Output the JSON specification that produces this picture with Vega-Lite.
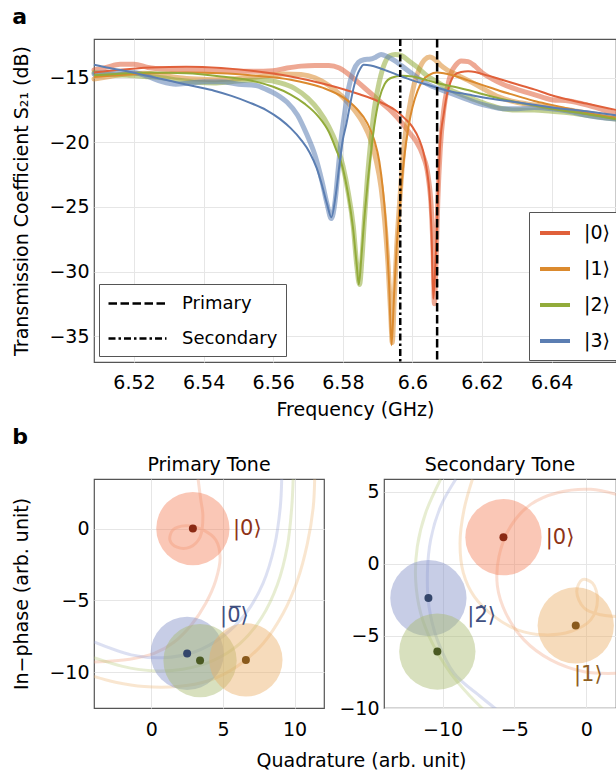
{
  "$schema": "https://vega.github.io/schema/vega-lite/v6.json",
  "padding": {"left": 12, "top": 6, "right": 0, "bottom": 0},
  "background": "white",
  "config": {
    "font": "DejaVu Sans",
    "view": {"stroke": "#555555", "strokeWidth": 1.2},
    "axis": {"domain": false, "ticks": false, "tickSize": 0, "grid": true, "gridColor": "#e6e6e6", "gridWidth": 1, "labelFontSize": 19, "labelColor": "#000000", "titleFontSize": 19, "titleFontWeight": "normal", "titleColor": "#000000", "labelPadding": 5},
    "title": {"fontSize": 19, "fontWeight": "normal", "color": "#000000"},
    "legend": {"labelFontSize": 19}
  },
  "title": {"text": "a", "anchor": "start", "frame": "bounds", "fontSize": 22, "fontWeight": "bold", "offset": 8},
  "spacing": 6,
  "datasets": {
    "meas": [
      {"st":"|0⟩","f":6.5085,"s":-14.4},{"st":"|0⟩","f":6.512,"s":-14.2},{"st":"|0⟩","f":6.516,"s":-13.95},{"st":"|0⟩","f":6.52,"s":-13.95},{"st":"|0⟩","f":6.524,"s":-14.2},{"st":"|0⟩","f":6.53,"s":-14.35},{"st":"|0⟩","f":6.536,"s":-14.4},{"st":"|0⟩","f":6.542,"s":-14.45},{"st":"|0⟩","f":6.548,"s":-14.5},{"st":"|0⟩","f":6.554,"s":-14.5},{"st":"|0⟩","f":6.56,"s":-14.45},{"st":"|0⟩","f":6.564,"s":-14.25},{"st":"|0⟩","f":6.568,"s":-14.1},{"st":"|0⟩","f":6.572,"s":-14.05},{"st":"|0⟩","f":6.576,"s":-14.05},{"st":"|0⟩","f":6.579,"s":-14.25},{"st":"|0⟩","f":6.582,"s":-14.8},{"st":"|0⟩","f":6.585,"s":-15.5},{"st":"|0⟩","f":6.588,"s":-16.2},{"st":"|0⟩","f":6.591,"s":-16.9},{"st":"|0⟩","f":6.594,"s":-17.6},{"st":"|0⟩","f":6.597,"s":-18.5},{"st":"|0⟩","f":6.599,"s":-19.2},{"st":"|0⟩","f":6.601,"s":-19.9},{"st":"|0⟩","f":6.603,"s":-21.0},{"st":"|0⟩","f":6.6045,"s":-22.6},{"st":"|0⟩","f":6.6055,"s":-25.5},{"st":"|0⟩","f":6.606,"s":-29.0},{"st":"|0⟩","f":6.6063,"s":-32.5},{"st":"|0⟩","f":6.6068,"s":-29.0},{"st":"|0⟩","f":6.6073,"s":-24.5},{"st":"|0⟩","f":6.608,"s":-20.5},{"st":"|0⟩","f":6.609,"s":-17.5},{"st":"|0⟩","f":6.61,"s":-15.8},{"st":"|0⟩","f":6.611,"s":-14.7},{"st":"|0⟩","f":6.6125,"s":-14.0},{"st":"|0⟩","f":6.614,"s":-13.7},{"st":"|0⟩","f":6.616,"s":-13.75},{"st":"|0⟩","f":6.618,"s":-14.1},{"st":"|0⟩","f":6.62,"s":-14.6},{"st":"|0⟩","f":6.623,"s":-15.1},{"st":"|0⟩","f":6.626,"s":-15.5},{"st":"|0⟩","f":6.63,"s":-15.9},{"st":"|0⟩","f":6.635,"s":-16.3},{"st":"|0⟩","f":6.64,"s":-16.7},{"st":"|0⟩","f":6.645,"s":-16.8},{"st":"|0⟩","f":6.65,"s":-17.1},{"st":"|0⟩","f":6.655,"s":-17.5},{"st":"|0⟩","f":6.6585,"s":-17.8},
      {"st":"|1⟩","f":6.5085,"s":-15.1},{"st":"|1⟩","f":6.513,"s":-14.9},{"st":"|1⟩","f":6.518,"s":-14.7},{"st":"|1⟩","f":6.523,"s":-14.65},{"st":"|1⟩","f":6.528,"s":-14.8},{"st":"|1⟩","f":6.533,"s":-15.0},{"st":"|1⟩","f":6.538,"s":-15.1},{"st":"|1⟩","f":6.543,"s":-15.15},{"st":"|1⟩","f":6.548,"s":-15.1},{"st":"|1⟩","f":6.553,"s":-15.0},{"st":"|1⟩","f":6.558,"s":-14.85},{"st":"|1⟩","f":6.563,"s":-14.7},{"st":"|1⟩","f":6.568,"s":-14.75},{"st":"|1⟩","f":6.572,"s":-15.0},{"st":"|1⟩","f":6.576,"s":-15.6},{"st":"|1⟩","f":6.58,"s":-16.5},{"st":"|1⟩","f":6.583,"s":-17.4},{"st":"|1⟩","f":6.586,"s":-18.6},{"st":"|1⟩","f":6.588,"s":-19.8},{"st":"|1⟩","f":6.5895,"s":-21.3},{"st":"|1⟩","f":6.591,"s":-23.5},{"st":"|1⟩","f":6.592,"s":-26.0},{"st":"|1⟩","f":6.593,"s":-29.5},{"st":"|1⟩","f":6.5938,"s":-33.5},{"st":"|1⟩","f":6.5942,"s":-35.5},{"st":"|1⟩","f":6.5948,"s":-32.0},{"st":"|1⟩","f":6.5955,"s":-28.0},{"st":"|1⟩","f":6.5965,"s":-24.0},{"st":"|1⟩","f":6.5975,"s":-20.5},{"st":"|1⟩","f":6.599,"s":-17.5},{"st":"|1⟩","f":6.6005,"s":-15.5},{"st":"|1⟩","f":6.602,"s":-14.3},{"st":"|1⟩","f":6.6035,"s":-13.6},{"st":"|1⟩","f":6.605,"s":-13.4},{"st":"|1⟩","f":6.6065,"s":-13.6},{"st":"|1⟩","f":6.608,"s":-14.0},{"st":"|1⟩","f":6.61,"s":-14.4},{"st":"|1⟩","f":6.613,"s":-14.8},{"st":"|1⟩","f":6.616,"s":-15.2},{"st":"|1⟩","f":6.62,"s":-15.8},{"st":"|1⟩","f":6.625,"s":-16.5},{"st":"|1⟩","f":6.63,"s":-16.9},{"st":"|1⟩","f":6.635,"s":-17.1},{"st":"|1⟩","f":6.64,"s":-17.3},{"st":"|1⟩","f":6.645,"s":-17.5},{"st":"|1⟩","f":6.65,"s":-17.7},{"st":"|1⟩","f":6.6585,"s":-18.1},
      {"st":"|2⟩","f":6.5085,"s":-14.6},{"st":"|2⟩","f":6.513,"s":-14.75},{"st":"|2⟩","f":6.518,"s":-14.8},{"st":"|2⟩","f":6.523,"s":-14.9},{"st":"|2⟩","f":6.528,"s":-15.0},{"st":"|2⟩","f":6.533,"s":-15.2},{"st":"|2⟩","f":6.538,"s":-15.35},{"st":"|2⟩","f":6.543,"s":-15.4},{"st":"|2⟩","f":6.548,"s":-15.3},{"st":"|2⟩","f":6.553,"s":-15.2},{"st":"|2⟩","f":6.558,"s":-15.2},{"st":"|2⟩","f":6.562,"s":-15.4},{"st":"|2⟩","f":6.566,"s":-15.8},{"st":"|2⟩","f":6.57,"s":-16.6},{"st":"|2⟩","f":6.573,"s":-17.5},{"st":"|2⟩","f":6.576,"s":-18.8},{"st":"|2⟩","f":6.578,"s":-20.0},{"st":"|2⟩","f":6.58,"s":-21.8},{"st":"|2⟩","f":6.5815,"s":-23.8},{"st":"|2⟩","f":6.583,"s":-26.5},{"st":"|2⟩","f":6.584,"s":-29.5},{"st":"|2⟩","f":6.5848,"s":-31.0},{"st":"|2⟩","f":6.5855,"s":-29.0},{"st":"|2⟩","f":6.5862,"s":-26.0},{"st":"|2⟩","f":6.587,"s":-23.0},{"st":"|2⟩","f":6.588,"s":-20.0},{"st":"|2⟩","f":6.589,"s":-17.5},{"st":"|2⟩","f":6.5905,"s":-15.3},{"st":"|2⟩","f":6.592,"s":-13.9},{"st":"|2⟩","f":6.5935,"s":-13.3},{"st":"|2⟩","f":6.595,"s":-13.2},{"st":"|2⟩","f":6.597,"s":-13.3},{"st":"|2⟩","f":6.599,"s":-13.7},{"st":"|2⟩","f":6.601,"s":-14.1},{"st":"|2⟩","f":6.604,"s":-14.8},{"st":"|2⟩","f":6.607,"s":-15.3},{"st":"|2⟩","f":6.61,"s":-15.8},{"st":"|2⟩","f":6.614,"s":-16.3},{"st":"|2⟩","f":6.618,"s":-16.7},{"st":"|2⟩","f":6.622,"s":-17.1},{"st":"|2⟩","f":6.626,"s":-17.4},{"st":"|2⟩","f":6.63,"s":-17.5},{"st":"|2⟩","f":6.635,"s":-17.5},{"st":"|2⟩","f":6.64,"s":-17.6},{"st":"|2⟩","f":6.645,"s":-17.7},{"st":"|2⟩","f":6.65,"s":-17.9},{"st":"|2⟩","f":6.6585,"s":-18.2},
      {"st":"|3⟩","f":6.5085,"s":-14.7},{"st":"|3⟩","f":6.512,"s":-14.6},{"st":"|3⟩","f":6.516,"s":-14.55},{"st":"|3⟩","f":6.52,"s":-14.6},{"st":"|3⟩","f":6.524,"s":-14.9},{"st":"|3⟩","f":6.528,"s":-15.3},{"st":"|3⟩","f":6.532,"s":-15.5},{"st":"|3⟩","f":6.536,"s":-15.4},{"st":"|3⟩","f":6.54,"s":-15.3},{"st":"|3⟩","f":6.545,"s":-15.3},{"st":"|3⟩","f":6.55,"s":-15.5},{"st":"|3⟩","f":6.555,"s":-15.6},{"st":"|3⟩","f":6.558,"s":-15.9},{"st":"|3⟩","f":6.561,"s":-16.3},{"st":"|3⟩","f":6.564,"s":-16.9},{"st":"|3⟩","f":6.567,"s":-17.9},{"st":"|3⟩","f":6.5695,"s":-19.3},{"st":"|3⟩","f":6.572,"s":-21.0},{"st":"|3⟩","f":6.574,"s":-23.0},{"st":"|3⟩","f":6.5755,"s":-24.8},{"st":"|3⟩","f":6.5767,"s":-25.9},{"st":"|3⟩","f":6.5778,"s":-24.5},{"st":"|3⟩","f":6.5787,"s":-22.0},{"st":"|3⟩","f":6.5795,"s":-19.8},{"st":"|3⟩","f":6.5805,"s":-17.8},{"st":"|3⟩","f":6.5815,"s":-16.0},{"st":"|3⟩","f":6.583,"s":-14.5},{"st":"|3⟩","f":6.5845,"s":-13.8},{"st":"|3⟩","f":6.586,"s":-13.6},{"st":"|3⟩","f":6.588,"s":-13.55},{"st":"|3⟩","f":6.5895,"s":-13.4},{"st":"|3⟩","f":6.591,"s":-13.2},{"st":"|3⟩","f":6.593,"s":-13.4},{"st":"|3⟩","f":6.595,"s":-13.7},{"st":"|3⟩","f":6.597,"s":-14.1},{"st":"|3⟩","f":6.6,"s":-14.7},{"st":"|3⟩","f":6.603,"s":-15.3},{"st":"|3⟩","f":6.606,"s":-15.7},{"st":"|3⟩","f":6.61,"s":-16.1},{"st":"|3⟩","f":6.614,"s":-16.5},{"st":"|3⟩","f":6.618,"s":-16.9},{"st":"|3⟩","f":6.622,"s":-17.2},{"st":"|3⟩","f":6.626,"s":-17.4},{"st":"|3⟩","f":6.63,"s":-17.4},{"st":"|3⟩","f":6.635,"s":-17.3},{"st":"|3⟩","f":6.64,"s":-17.4},{"st":"|3⟩","f":6.645,"s":-17.6},{"st":"|3⟩","f":6.65,"s":-17.9},{"st":"|3⟩","f":6.6585,"s":-18.2}
    ],
    "fit": [
      {"st":"|0⟩","f":6.5085,"s":-14.6},{"st":"|0⟩","f":6.515,"s":-14.4},{"st":"|0⟩","f":6.525,"s":-14.2},{"st":"|0⟩","f":6.535,"s":-14.15},{"st":"|0⟩","f":6.545,"s":-14.25},{"st":"|0⟩","f":6.555,"s":-14.5},{"st":"|0⟩","f":6.565,"s":-14.9},{"st":"|0⟩","f":6.575,"s":-15.5},{"st":"|0⟩","f":6.585,"s":-16.3},{"st":"|0⟩","f":6.59,"s":-16.8},{"st":"|0⟩","f":6.595,"s":-17.5},{"st":"|0⟩","f":6.598,"s":-18.2},{"st":"|0⟩","f":6.6,"s":-18.8},{"st":"|0⟩","f":6.602,"s":-19.8},{"st":"|0⟩","f":6.603,"s":-20.6},{"st":"|0⟩","f":6.604,"s":-21.9},{"st":"|0⟩","f":6.605,"s":-24.3},{"st":"|0⟩","f":6.6055,"s":-27.0},{"st":"|0⟩","f":6.606,"s":-32.1},{"st":"|0⟩","f":6.6065,"s":-30.0},{"st":"|0⟩","f":6.607,"s":-26.9},{"st":"|0⟩","f":6.6075,"s":-23.0},{"st":"|0⟩","f":6.608,"s":-20.0},{"st":"|0⟩","f":6.609,"s":-17.8},{"st":"|0⟩","f":6.61,"s":-16.2},{"st":"|0⟩","f":6.611,"s":-15.3},{"st":"|0⟩","f":6.612,"s":-14.8},{"st":"|0⟩","f":6.614,"s":-14.55},{"st":"|0⟩","f":6.616,"s":-14.5},{"st":"|0⟩","f":6.618,"s":-14.55},{"st":"|0⟩","f":6.62,"s":-14.7},{"st":"|0⟩","f":6.625,"s":-15.1},{"st":"|0⟩","f":6.63,"s":-15.5},{"st":"|0⟩","f":6.635,"s":-15.9},{"st":"|0⟩","f":6.64,"s":-16.35},{"st":"|0⟩","f":6.645,"s":-16.7},{"st":"|0⟩","f":6.65,"s":-17.0},{"st":"|0⟩","f":6.6585,"s":-17.5},
      {"st":"|1⟩","f":6.5085,"s":-14.95},{"st":"|1⟩","f":6.515,"s":-14.8},{"st":"|1⟩","f":6.525,"s":-14.65},{"st":"|1⟩","f":6.535,"s":-14.6},{"st":"|1⟩","f":6.545,"s":-14.65},{"st":"|1⟩","f":6.555,"s":-14.85},{"st":"|1⟩","f":6.565,"s":-15.15},{"st":"|1⟩","f":6.57,"s":-15.45},{"st":"|1⟩","f":6.575,"s":-15.85},{"st":"|1⟩","f":6.58,"s":-16.5},{"st":"|1⟩","f":6.584,"s":-17.4},{"st":"|1⟩","f":6.587,"s":-18.5},{"st":"|1⟩","f":6.589,"s":-19.8},{"st":"|1⟩","f":6.5905,"s":-21.5},{"st":"|1⟩","f":6.5915,"s":-23.6},{"st":"|1⟩","f":6.5925,"s":-26.8},{"st":"|1⟩","f":6.5933,"s":-31.0},{"st":"|1⟩","f":6.594,"s":-35.7},{"st":"|1⟩","f":6.5947,"s":-32.0},{"st":"|1⟩","f":6.5955,"s":-28.0},{"st":"|1⟩","f":6.5965,"s":-24.5},{"st":"|1⟩","f":6.5975,"s":-21.5},{"st":"|1⟩","f":6.599,"s":-18.6},{"st":"|1⟩","f":6.6,"s":-17.3},{"st":"|1⟩","f":6.6015,"s":-16.0},{"st":"|1⟩","f":6.603,"s":-15.2},{"st":"|1⟩","f":6.605,"s":-14.75},{"st":"|1⟩","f":6.607,"s":-14.6},{"st":"|1⟩","f":6.609,"s":-14.65},{"st":"|1⟩","f":6.612,"s":-14.85},{"st":"|1⟩","f":6.616,"s":-15.2},{"st":"|1⟩","f":6.62,"s":-15.55},{"st":"|1⟩","f":6.625,"s":-16.0},{"st":"|1⟩","f":6.63,"s":-16.4},{"st":"|1⟩","f":6.635,"s":-16.8},{"st":"|1⟩","f":6.64,"s":-17.1},{"st":"|1⟩","f":6.645,"s":-17.4},{"st":"|1⟩","f":6.65,"s":-17.7},{"st":"|1⟩","f":6.6585,"s":-18.1},
      {"st":"|2⟩","f":6.5085,"s":-14.8},{"st":"|2⟩","f":6.515,"s":-14.7},{"st":"|2⟩","f":6.525,"s":-14.6},{"st":"|2⟩","f":6.535,"s":-14.65},{"st":"|2⟩","f":6.545,"s":-14.9},{"st":"|2⟩","f":6.555,"s":-15.3},{"st":"|2⟩","f":6.56,"s":-15.7},{"st":"|2⟩","f":6.565,"s":-16.3},{"st":"|2⟩","f":6.569,"s":-17.0},{"st":"|2⟩","f":6.573,"s":-18.0},{"st":"|2⟩","f":6.576,"s":-19.2},{"st":"|2⟩","f":6.578,"s":-20.5},{"st":"|2⟩","f":6.58,"s":-22.0},{"st":"|2⟩","f":6.5815,"s":-24.0},{"st":"|2⟩","f":6.583,"s":-26.8},{"st":"|2⟩","f":6.584,"s":-29.5},{"st":"|2⟩","f":6.5846,"s":-31.0},{"st":"|2⟩","f":6.5853,"s":-29.0},{"st":"|2⟩","f":6.586,"s":-26.5},{"st":"|2⟩","f":6.587,"s":-23.5},{"st":"|2⟩","f":6.588,"s":-21.0},{"st":"|2⟩","f":6.589,"s":-18.8},{"st":"|2⟩","f":6.5905,"s":-16.6},{"st":"|2⟩","f":6.592,"s":-15.5},{"st":"|2⟩","f":6.594,"s":-15.0},{"st":"|2⟩","f":6.597,"s":-14.85},{"st":"|2⟩","f":6.6,"s":-14.9},{"st":"|2⟩","f":6.603,"s":-15.1},{"st":"|2⟩","f":6.607,"s":-15.4},{"st":"|2⟩","f":6.612,"s":-15.7},{"st":"|2⟩","f":6.618,"s":-16.1},{"st":"|2⟩","f":6.625,"s":-16.6},{"st":"|2⟩","f":6.632,"s":-17.0},{"st":"|2⟩","f":6.64,"s":-17.4},{"st":"|2⟩","f":6.65,"s":-17.8},{"st":"|2⟩","f":6.6585,"s":-18.2},
      {"st":"|3⟩","f":6.5085,"s":-14.0},{"st":"|3⟩","f":6.513,"s":-14.25},{"st":"|3⟩","f":6.518,"s":-14.5},{"st":"|3⟩","f":6.523,"s":-14.8},{"st":"|3⟩","f":6.528,"s":-15.1},{"st":"|3⟩","f":6.533,"s":-15.4},{"st":"|3⟩","f":6.538,"s":-15.7},{"st":"|3⟩","f":6.543,"s":-16.0},{"st":"|3⟩","f":6.548,"s":-16.4},{"st":"|3⟩","f":6.553,"s":-16.9},{"st":"|3⟩","f":6.558,"s":-17.5},{"st":"|3⟩","f":6.562,"s":-18.2},{"st":"|3⟩","f":6.565,"s":-18.9},{"st":"|3⟩","f":6.568,"s":-19.8},{"st":"|3⟩","f":6.5705,"s":-20.8},{"st":"|3⟩","f":6.5725,"s":-22.0},{"st":"|3⟩","f":6.574,"s":-23.3},{"st":"|3⟩","f":6.5755,"s":-24.8},{"st":"|3⟩","f":6.5767,"s":-25.8},{"st":"|3⟩","f":6.578,"s":-24.0},{"st":"|3⟩","f":6.579,"s":-21.8},{"st":"|3⟩","f":6.58,"s":-19.8},{"st":"|3⟩","f":6.581,"s":-18.6},{"st":"|3⟩","f":6.582,"s":-17.2},{"st":"|3⟩","f":6.583,"s":-15.9},{"st":"|3⟩","f":6.584,"s":-14.9},{"st":"|3⟩","f":6.585,"s":-14.3},{"st":"|3⟩","f":6.586,"s":-14.0},{"st":"|3⟩","f":6.588,"s":-14.05},{"st":"|3⟩","f":6.591,"s":-14.3},{"st":"|3⟩","f":6.595,"s":-14.7},{"st":"|3⟩","f":6.6,"s":-15.2},{"st":"|3⟩","f":6.605,"s":-15.6},{"st":"|3⟩","f":6.61,"s":-16.0},{"st":"|3⟩","f":6.616,"s":-16.3},{"st":"|3⟩","f":6.62,"s":-16.5},{"st":"|3⟩","f":6.63,"s":-16.9},{"st":"|3⟩","f":6.64,"s":-17.3},{"st":"|3⟩","f":6.65,"s":-17.6},{"st":"|3⟩","f":6.6585,"s":-17.9}
    ],
    "tones": [{"tone":"Primary","f":6.6071},{"tone":"Secondary","f":6.5965}],
    "traces": [
      {"p":"P","st":"0","k":0,"q":3.26,"i":3.47},{"p":"P","st":"0","k":1,"q":3.45,"i":2.0},{"p":"P","st":"0","k":2,"q":3.6,"i":0.9},{"p":"P","st":"0","k":3,"q":3.4,"i":-0.6},{"p":"P","st":"0","k":4,"q":2.7,"i":-1.3},{"p":"P","st":"0","k":5,"q":1.8,"i":-1.3},{"p":"P","st":"0","k":6,"q":1.3,"i":-0.8},{"p":"P","st":"0","k":7,"q":1.5,"i":-0.1},{"p":"P","st":"0","k":8,"q":2.4,"i":0.2},{"p":"P","st":"0","k":9,"q":3.6,"i":-0.1},{"p":"P","st":"0","k":10,"q":4.5,"i":-0.8},{"p":"P","st":"0","k":11,"q":4.8,"i":-2.0},{"p":"P","st":"0","k":12,"q":4.5,"i":-3.6},{"p":"P","st":"0","k":13,"q":3.8,"i":-5.2},{"p":"P","st":"0","k":14,"q":2.8,"i":-6.7},{"p":"P","st":"0","k":15,"q":1.6,"i":-7.9},{"p":"P","st":"0","k":16,"q":0.2,"i":-8.7},{"p":"P","st":"0","k":17,"q":-1.5,"i":-9.1},{"p":"P","st":"0","k":18,"q":-4.0,"i":-9.3},
      {"p":"P","st":"1","k":0,"q":11.4,"i":3.47},{"p":"P","st":"1","k":1,"q":11.3,"i":1.5},{"p":"P","st":"1","k":2,"q":10.9,"i":-1.0},{"p":"P","st":"1","k":3,"q":10.2,"i":-3.6},{"p":"P","st":"1","k":4,"q":9.2,"i":-5.9},{"p":"P","st":"1","k":5,"q":7.8,"i":-8.0},{"p":"P","st":"1","k":6,"q":6.0,"i":-9.6},{"p":"P","st":"1","k":7,"q":4.0,"i":-10.6},{"p":"P","st":"1","k":8,"q":1.8,"i":-11.0},{"p":"P","st":"1","k":9,"q":-0.5,"i":-11.0},{"p":"P","st":"1","k":10,"q":-2.5,"i":-10.7},{"p":"P","st":"1","k":11,"q":-4.0,"i":-10.3},
      {"p":"P","st":"2","k":0,"q":9.9,"i":3.47},{"p":"P","st":"2","k":1,"q":9.8,"i":1.5},{"p":"P","st":"2","k":2,"q":9.5,"i":-1.2},{"p":"P","st":"2","k":3,"q":8.8,"i":-3.9},{"p":"P","st":"2","k":4,"q":7.7,"i":-6.2},{"p":"P","st":"2","k":5,"q":6.2,"i":-8.0},{"p":"P","st":"2","k":6,"q":4.3,"i":-9.2},{"p":"P","st":"2","k":7,"q":2.2,"i":-9.8},{"p":"P","st":"2","k":8,"q":0.0,"i":-9.9},{"p":"P","st":"2","k":9,"q":-2.0,"i":-9.6},{"p":"P","st":"2","k":10,"q":-4.0,"i":-9.0},
      {"p":"P","st":"3","k":0,"q":9.1,"i":3.47},{"p":"P","st":"3","k":1,"q":9.0,"i":1.5},{"p":"P","st":"3","k":2,"q":8.6,"i":-1.2},{"p":"P","st":"3","k":3,"q":7.8,"i":-3.8},{"p":"P","st":"3","k":4,"q":6.6,"i":-5.9},{"p":"P","st":"3","k":5,"q":5.0,"i":-7.5},{"p":"P","st":"3","k":6,"q":3.0,"i":-8.6},{"p":"P","st":"3","k":7,"q":0.8,"i":-9.0},{"p":"P","st":"3","k":8,"q":-1.4,"i":-8.8},{"p":"P","st":"3","k":9,"q":-4.0,"i":-7.9},
      {"p":"S","st":"0","k":0,"q":2.08,"i":4.83},{"p":"S","st":"0","k":1,"q":0.32,"i":5.18},{"p":"S","st":"0","k":2,"q":-2.0,"i":4.95},{"p":"S","st":"0","k":3,"q":-3.86,"i":4.14},{"p":"S","st":"0","k":4,"q":-5.25,"i":2.63},{"p":"S","st":"0","k":5,"q":-6.07,"i":0.54},{"p":"S","st":"0","k":6,"q":-6.18,"i":-1.55},{"p":"S","st":"0","k":7,"q":-5.6,"i":-3.41},{"p":"S","st":"0","k":8,"q":-4.33,"i":-5.27},{"p":"S","st":"0","k":9,"q":-2.47,"i":-6.66},{"p":"S","st":"0","k":10,"q":-0.15,"i":-7.48},{"p":"S","st":"0","k":11,"q":2.08,"i":-7.59},
      {"p":"S","st":"1","k":0,"q":-7.92,"i":5.88},{"p":"S","st":"1","k":1,"q":-8.5,"i":3.79},{"p":"S","st":"1","k":2,"q":-8.78,"i":1.47},{"p":"S","st":"1","k":3,"q":-8.55,"i":-0.62},{"p":"S","st":"1","k":4,"q":-7.8,"i":-2.25},{"p":"S","st":"1","k":5,"q":-6.41,"i":-3.64},{"p":"S","st":"1","k":6,"q":-4.79,"i":-4.57},{"p":"S","st":"1","k":7,"q":-2.93,"i":-4.92},{"p":"S","st":"1","k":8,"q":-1.08,"i":-4.69},{"p":"S","st":"1","k":9,"q":0.31,"i":-3.88},{"p":"S","st":"1","k":10,"q":0.78,"i":-2.48},{"p":"S","st":"1","k":11,"q":0.43,"i":-1.32},{"p":"S","st":"1","k":12,"q":-0.27,"i":-1.09},{"p":"S","st":"1","k":13,"q":-0.66,"i":-1.9},{"p":"S","st":"1","k":14,"q":-0.15,"i":-3.06},{"p":"S","st":"1","k":15,"q":1.01,"i":-3.53},{"p":"S","st":"1","k":16,"q":2.08,"i":-3.64},
      {"p":"S","st":"2","k":0,"q":-10.13,"i":5.88},{"p":"S","st":"2","k":1,"q":-11.17,"i":3.56},{"p":"S","st":"2","k":2,"q":-11.75,"i":1.23},{"p":"S","st":"2","k":3,"q":-11.87,"i":-1.09},{"p":"S","st":"2","k":4,"q":-11.52,"i":-3.41},{"p":"S","st":"2","k":5,"q":-10.71,"i":-5.5},{"p":"S","st":"2","k":6,"q":-9.43,"i":-7.59},{"p":"S","st":"2","k":7,"q":-8.04,"i":-9.22},{"p":"S","st":"2","k":8,"q":-7.11,"i":-10.15},
      {"p":"S","st":"3","k":0,"q":-9.08,"i":5.88},{"p":"S","st":"3","k":1,"q":-10.12,"i":4.02},{"p":"S","st":"3","k":2,"q":-10.82,"i":1.7},{"p":"S","st":"3","k":3,"q":-11.05,"i":-0.62},{"p":"S","st":"3","k":4,"q":-10.94,"i":-2.95},{"p":"S","st":"3","k":5,"q":-10.36,"i":-5.27},{"p":"S","st":"3","k":6,"q":-9.2,"i":-7.59},{"p":"S","st":"3","k":7,"q":-7.34,"i":-9.22},{"p":"S","st":"3","k":8,"q":-6.18,"i":-10.15}
    ],
    "blobs": [
      {"p":"P","st":"0","q":2.9,"i":0.0},{"p":"P","st":"3","q":2.5,"i":-8.7},{"p":"P","st":"2","q":3.4,"i":-9.2},{"p":"P","st":"1","q":6.6,"i":-9.15},
      {"p":"S","st":"0","q":-5.76,"i":1.86},{"p":"S","st":"3","q":-10.98,"i":-2.37},{"p":"S","st":"2","q":-10.36,"i":-6.08},{"p":"S","st":"1","q":-0.73,"i":-4.27}
    ],
    "labels": [
      {"p":"P","st":"0","t":"|0⟩","q":5.7,"i":0.0},{"p":"P","st":"3","t":"|0̅⟩","q":4.8,"i":-6.1},
      {"p":"S","st":"0","t":"|0⟩","q":-2.82,"i":1.81},{"p":"S","st":"3","t":"|2̃⟩","q":-8.27,"i":-3.64},{"p":"S","st":"1","t":"|1⟩","q":-0.85,"i":-7.71}
    ]
  },
  "vconcat": [
    {
      "width": 522,
      "height": 323,
      "encoding": {
        "x": {"field": "f", "type": "quantitative", "scale": {"domain": [6.5085, 6.6585], "nice": false, "zero": false}, "axis": {"values": [6.52, 6.54, 6.56, 6.58, 6.6, 6.62, 6.64], "format": ".3~f", "title": "Frequency (GHz)", "labelPadding": 11, "titlePadding": 8}}
      },
      "layer": [
        {
          "data": {"name": "meas"},
          "mark": {"type": "line", "strokeWidth": 5, "opacity": 0.55, "strokeCap": "round", "strokeJoin": "round", "interpolate": "monotone"},
          "encoding": {
            "y": {"field": "s", "type": "quantitative", "scale": {"domain": [-37, -12], "nice": false, "zero": false}, "axis": {"values": [-35, -30, -25, -20, -15], "title": "Transmission Coefficient S₂₁ (dB)", "titlePadding": 17}},
            "color": {"field": "st", "type": "nominal", "scale": {"domain": ["|0⟩", "|1⟩", "|2⟩", "|3⟩"], "range": ["#E0603A", "#DB8A2E", "#92AB3A", "#5B7EB2"]}, "legend": {"orient": "none", "legendX": 435, "legendY": 173, "title": null, "symbolType": "M-1,0H2", "symbolSize": 400, "symbolStrokeWidth": 4, "symbolOpacity": 1, "labelFontSize": 19, "labelOffset": 22, "strokeColor": "#555555", "fillColor": "white", "padding": 9, "rowPadding": 14}}
          }
        },
        {
          "data": {"name": "fit"},
          "mark": {"type": "line", "strokeWidth": 2, "interpolate": "monotone"},
          "encoding": {
            "y": {"field": "s", "type": "quantitative"},
            "color": {"field": "st", "type": "nominal"}
          }
        },
        {
          "data": {"name": "tones"},
          "mark": {"type": "rule", "strokeWidth": 2.5, "color": "black"},
          "encoding": {
            "strokeDash": {"field": "tone", "type": "nominal", "scale": {"domain": ["Primary", "Secondary"], "range": [[8.5, 3.5], [7, 3, 2.5, 3]]}, "legend": {"orient": "none", "legendX": 5, "legendY": 245, "title": null, "symbolType": "M-1,0H4.8", "symbolSize": 400, "symbolStrokeColor": "black", "symbolStrokeWidth": 2.5, "labelFontSize": 18, "labelOffset": 52, "strokeColor": "#555555", "fillColor": "white", "padding": 8, "rowPadding": 14}}
          }
        }
      ]
    },
    {
      "title": {"text": "b", "anchor": "start", "frame": "bounds", "fontSize": 22, "fontWeight": "bold", "offset": 6},
      "bounds": "flush",
      "spacing": 60,
      "hconcat": [
        {
          "width": 230,
          "height": 229,
          "title": {"text": "Primary Tone", "fontSize": 19, "offset": 4},
          "encoding": {
            "x": {"field": "q", "type": "quantitative", "scale": {"domain": [-4, 12.05], "nice": false, "zero": false}, "axis": {"values": [0, 5, 10], "title": "Quadrature (arb. unit)", "titleX": 267, "labelPadding": 12, "titlePadding": 12}},
            "y": {"field": "i", "type": "quantitative", "scale": {"domain": [-12.5, 3.45], "nice": false, "zero": false}, "axis": {"values": [-10, -5, 0], "title": "In−phase (arb. unit)", "titlePadding": 17}}
          },
          "layer": [
            {
              "data": {"name": "traces"},
              "transform": [{"filter": "datum.p == 'P'"}],
              "mark": {"type": "line", "strokeWidth": 3, "opacity": 0.35, "clip": true, "interpolate": "catmull-rom"},
              "encoding": {
                "order": {"field": "k", "type": "quantitative"},
                "color": {"field": "st", "type": "nominal", "scale": {"domain": ["0", "1", "2", "3"], "range": ["#F2A07F", "#EFB779", "#B9CB7E", "#9AA6DA"]}, "legend": null}
              }
            },
            {
              "data": {"name": "blobs"},
              "transform": [{"filter": "datum.p == 'P'"}],
              "mark": {"type": "circle", "size": 5370, "opacity": 0.45, "clip": true},
              "encoding": {
                "color": {"field": "st", "type": "nominal", "scale": {"domain": ["0", "1", "2", "3"], "range": ["#F4835E", "#EBB068", "#A8BA6E", "#8290C8"]}, "legend": null}
              }
            },
            {
              "data": {"name": "blobs"},
              "transform": [{"filter": "datum.p == 'P'"}],
              "mark": {"type": "circle", "size": 64, "opacity": 1},
              "encoding": {
                "color": {"field": "st", "type": "nominal", "scale": {"domain": ["0", "1", "2", "3"], "range": ["#8B2A14", "#8A5A1C", "#4A5A22", "#34466B"]}, "legend": null}
              }
            },
            {
              "data": {"name": "labels"},
              "transform": [{"filter": "datum.p == 'P'"}],
              "mark": {"type": "text", "align": "left", "baseline": "middle", "fontSize": 21},
              "encoding": {
                "text": {"field": "t"},
                "color": {"field": "st", "type": "nominal", "scale": {"domain": ["0", "1", "2", "3"], "range": ["#8E3317", "#8F5E1E", "#4A5A22", "#3F4F80"]}, "legend": null}
              }
            }
          ],
          "resolve": {"scale": {"color": "independent"}}
        },
        {
          "width": 232,
          "height": 229,
          "title": {"text": "Secondary Tone", "fontSize": 19, "offset": 4},
          "encoding": {
            "x": {"field": "q", "type": "quantitative", "scale": {"domain": [-14.07, 2.07], "nice": false, "zero": false}, "axis": {"values": [-10, -5, 0], "title": null, "labelPadding": 12}},
            "y": {"field": "i", "type": "quantitative", "scale": {"domain": [-10, 5.9], "nice": false, "zero": false}, "axis": {"values": [-10, -5, 0, 5], "title": null}}
          },
          "layer": [
            {
              "data": {"name": "traces"},
              "transform": [{"filter": "datum.p == 'S'"}],
              "mark": {"type": "line", "strokeWidth": 3, "opacity": 0.35, "clip": true, "interpolate": "catmull-rom"},
              "encoding": {
                "order": {"field": "k", "type": "quantitative"},
                "color": {"field": "st", "type": "nominal", "scale": {"domain": ["0", "1", "2", "3"], "range": ["#F2A07F", "#EFB779", "#B9CB7E", "#9AA6DA"]}, "legend": null}
              }
            },
            {
              "data": {"name": "blobs"},
              "transform": [{"filter": "datum.p == 'S'"}],
              "mark": {"type": "circle", "size": 5820, "opacity": 0.45, "clip": true},
              "encoding": {
                "color": {"field": "st", "type": "nominal", "scale": {"domain": ["0", "1", "2", "3"], "range": ["#F4835E", "#EBB068", "#A8BA6E", "#8290C8"]}, "legend": null}
              }
            },
            {
              "data": {"name": "blobs"},
              "transform": [{"filter": "datum.p == 'S'"}],
              "mark": {"type": "circle", "size": 64, "opacity": 1},
              "encoding": {
                "color": {"field": "st", "type": "nominal", "scale": {"domain": ["0", "1", "2", "3"], "range": ["#8B2A14", "#8A5A1C", "#4A5A22", "#34466B"]}, "legend": null}
              }
            },
            {
              "data": {"name": "labels"},
              "transform": [{"filter": "datum.p == 'S'"}],
              "mark": {"type": "text", "align": "left", "baseline": "middle", "fontSize": 21},
              "encoding": {
                "text": {"field": "t"},
                "color": {"field": "st", "type": "nominal", "scale": {"domain": ["0", "1", "2", "3"], "range": ["#8E3317", "#8F5E1E", "#4A5A22", "#3F4F80"]}, "legend": null}
              }
            }
          ],
          "resolve": {"scale": {"color": "independent"}}
        }
      ]
    }
  ]
}
